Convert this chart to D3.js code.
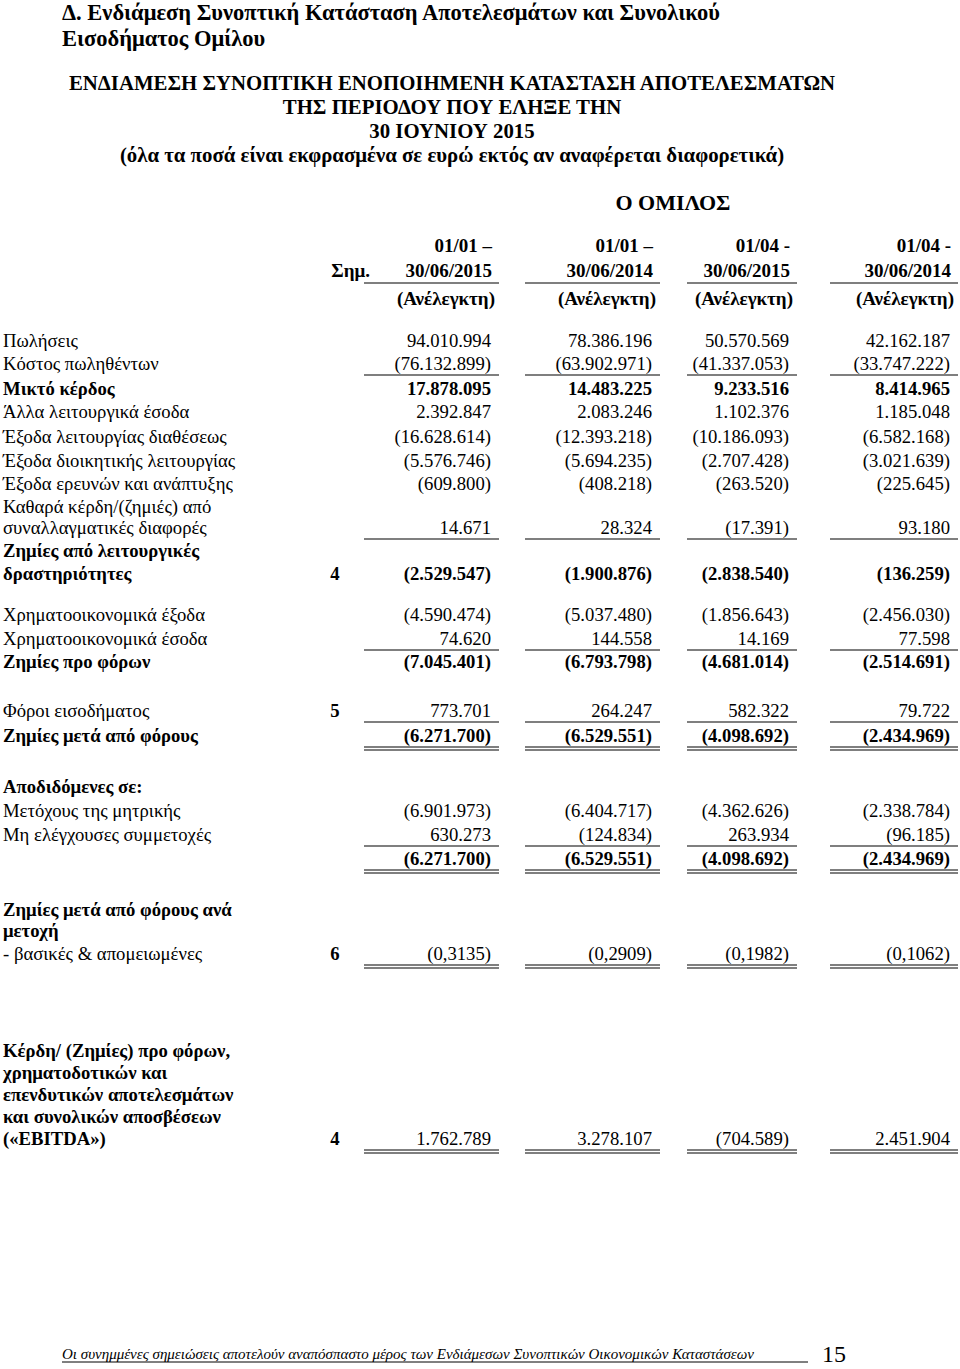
<!DOCTYPE html>
<html>
<head>
<meta charset="utf-8">
<script src="https://cdn.jsdelivr.net/npm/d3@7/dist/d3.min.js"></script>
<style>
  body { margin: 0; background: #fff; }
  text { font-family: "Liberation Serif", "Times New Roman", serif; fill: #000; }
</style>
</head>
<body>
<script>
// row labels (multi-line labels are split into several rows)
const rowLabels = [
  'Πωλήσεις', 'Κόστος πωληθέντων', 'Μικτό κέρδος', 'Άλλα λειτουργικά έσοδα',
  'Έξοδα λειτουργίας διαθέσεως', 'Έξοδα διοικητικής λειτουργίας',
  'Έξοδα ερευνών και ανάπτυξης', 'Καθαρά κέρδη/(ζημιές) από',
  'συναλλαγματικές διαφορές', 'Ζημίες από λειτουργικές', 'δραστηριότητες',
  'Χρηματοοικονομικά έξοδα', 'Χρηματοοικονομικά έσοδα', 'Ζημίες προ φόρων',
  'Φόροι εισοδήματος', 'Ζημίες μετά από φόρους', 'Αποδιδόμενες σε:',
  'Μετόχους της μητρικής', 'Μη ελέγχουσες συμμετοχές', '',
  'Ζημίες μετά από φόρους ανά', 'μετοχή', '- βασικές & απομειωμένες',
  'Κέρδη/ (Ζημίες) προ φόρων,', 'χρηματοδοτικών και', 'επενδυτικών αποτελεσμάτων',
  'και συνολικών αποσβέσεων', '(«EBITDA»)'
];
const rowNotes = [null, null, null, null, null, null, null, null, null, null, '4',
  null, null, null, '5', null, null, null, null, null, null, null, '6',
  null, null, null, null, '4'];

const columns = ['01/01 –\n30/06/2015', '01/01 –\n30/06/2014', '01/04 -\n30/06/2015', '01/04 -\n30/06/2014'];

const h1_2015 = [94010994, -76132899, 17878095, 2392847, -16628614, -5576746, -609800, null,
  14671, null, -2529547, -4590474, 74620, -7045401, 773701, -6271700, null,
  -6901973, 630273, -6271700, null, null, -0.3135, null, null, null, null, 1762789];
const h1_2014 = [78386196, -63902971, 14483225, 2083246, -12393218, -5694235, -408218, null,
  28324, null, -1900876, -5037480, 144558, -6793798, 264247, -6529551, null,
  -6404717, -124834, -6529551, null, null, -0.2909, null, null, null, null, 3278107];
const q2_2015 = [50570569, -41337053, 9233516, 1102376, -10186093, -2707428, -263520, null,
  -17391, null, -2838540, -1856643, 14169, -4681014, 582322, -4098692, null,
  -4362626, 263934, -4098692, null, null, -0.1982, null, null, null, null, -704589];
const q2_2014 = [42162187, -33747222, 8414965, 1185048, -6582168, -3021639, -225645, null,
  93180, null, -136259, -2456030, 77598, -2514691, 79722, -2434969, null,
  -2338784, -96185, -2434969, null, null, -0.1062, null, null, null, null, 2451904];

// ---- layout ----
const width = 960, height = 1369;
const rowY = [340, 363, 388, 411, 436, 460, 483, 506, 527, 550, 573, 614, 638, 661,
  710, 735, 786, 810, 834, 858, 909, 930, 953, 1050, 1072, 1094, 1116, 1138];
const boldLabel = new Set([2, 9, 10, 13, 15, 16, 19, 20, 21, 23, 24, 25, 26, 27]);
const boldValue = new Set([2, 10, 13, 15, 19]);
const singleRule = new Set([1, 8, 12, 14, 18]);
const doubleRule = new Set([15, 19, 22, 27]);

const series = [h1_2015, h1_2014, q2_2015, q2_2014];
const colRight = d3.scaleOrdinal().domain(d3.range(4)).range([491, 652, 789, 950]);
const ruleStart = d3.scaleOrdinal().domain(d3.range(4)).range([364, 525, 687, 830]);
const ruleEnd = d3.scaleOrdinal().domain(d3.range(4)).range([499, 660, 797, 958]);

const grLocale = d3.formatLocale({ decimal: ',', thousands: '.', grouping: [3], currency: ['', '€'] });
const fmtInt = grLocale.format(',d');
const fmtEps = grLocale.format(',.4f');
function fmt(v) {
  if (v == null) return '';
  const s = Math.abs(v) < 1 ? fmtEps(Math.abs(v)) : fmtInt(Math.abs(v));
  return v < 0 ? '(' + s + ')' : s;
}

const svg = d3.select('body')
  .append('svg')
  .attr('width', width)
  .attr('height', height);

// titles
const title = svg.append('g').style('font-weight', 'bold');
title.append('text').attr('x', 62).attr('y', 20).style('font-size', '22.5px')
  .text('Δ. Ενδιάμεση Συνοπτική Κατάσταση Αποτελεσμάτων και Συνολικού');
title.append('text').attr('x', 62).attr('y', 46).style('font-size', '22.5px')
  .text('Εισοδήματος Ομίλου');

const heading = ['ΕΝΔΙΑΜΕΣΗ ΣΥΝΟΠΤΙΚΗ ΕΝΟΠΟΙΗΜΕΝΗ ΚΑΤΑΣΤΑΣΗ ΑΠΟΤΕΛΕΣΜΑΤΩΝ',
  'ΤΗΣ ΠΕΡΙΟΔΟΥ ΠΟΥ ΕΛΗΞΕ ΤΗΝ', '30 ΙΟΥΝΙΟΥ 2015',
  '(όλα τα ποσά είναι εκφρασμένα σε ευρώ εκτός αν αναφέρεται διαφορετικά)'];
title.selectAll('text.head')
  .data(heading)
  .enter()
  .append('text')
  .attr('class', 'head')
  .attr('x', 452)
  .attr('y', (d, i) => 83 + i * 24)
  .attr('dy', '0.35em')
  .attr('text-anchor', 'middle')
  .style('font-size', '20.8px')
  .text((d) => d);

title.append('text').attr('x', 673).attr('y', 202).attr('dy', '0.35em')
  .attr('text-anchor', 'middle').style('font-size', '22px').text('Ο ΟΜΙΛΟΣ');

// column headers
const hdr = svg.append('g').style('font-weight', 'bold').style('font-size', '19px');
hdr.append('text').attr('x', 370).attr('y', 270).attr('dy', '0.35em')
  .attr('text-anchor', 'end').text('Σημ.');
columns.forEach(function (c, i) {
  c.split('\n').forEach(function (line, j) {
    hdr.append('text')
      .attr('x', colRight(i) + 1)
      .attr('y', 245 + j * 25)
      .attr('dy', '0.35em')
      .attr('text-anchor', 'end')
      .text(line);
  });
  hdr.append('text')
    .attr('x', colRight(i) + 4)
    .attr('y', 298)
    .attr('dy', '0.35em')
    .attr('text-anchor', 'end')
    .text('(Ανέλεγκτη)');
  svg.append('line')
    .attr('x1', ruleStart(i)).attr('x2', ruleEnd(i))
    .attr('y1', 283).attr('y2', 283)
    .attr('stroke', '#000').attr('stroke-width', 1.2);
});

// body rows
const rows = svg.append('g').style('font-size', '18.7px');
rows.selectAll('text.label')
  .data(rowLabels)
  .enter()
  .append('text')
  .attr('class', 'label')
  .attr('x', 3)
  .attr('y', (d, i) => rowY[i])
  .attr('dy', '0.35em')
  .style('font-weight', (d, i) => (boldLabel.has(i) ? 'bold' : 'normal'))
  .text((d) => d);

rows.selectAll('text.note')
  .data(rowNotes)
  .enter()
  .append('text')
  .attr('class', 'note')
  .attr('x', 335)
  .attr('y', (d, i) => rowY[i])
  .attr('dy', '0.35em')
  .attr('text-anchor', 'middle')
  .style('font-weight', 'bold')
  .text((d) => d || '');

series.forEach(function (vals, c) {
  rows.selectAll('text.v' + c)
    .data(vals)
    .enter()
    .append('text')
    .attr('class', 'v' + c)
    .attr('x', colRight(c))
    .attr('y', (d, i) => rowY[i])
    .attr('dy', '0.35em')
    .attr('text-anchor', 'end')
    .style('font-weight', (d, i) => (boldValue.has(i) ? 'bold' : 'normal'))
    .text((d) => fmt(d));

  rowY.forEach(function (y, i) {
    if (singleRule.has(i) || doubleRule.has(i)) {
      svg.append('line')
        .attr('x1', ruleStart(c)).attr('x2', ruleEnd(c))
        .attr('y1', y + 12).attr('y2', y + 12)
        .attr('stroke', '#000').attr('stroke-width', 1.2);
    }
    if (doubleRule.has(i)) {
      svg.append('line')
        .attr('x1', ruleStart(c)).attr('x2', ruleEnd(c))
        .attr('y1', y + 15).attr('y2', y + 15)
        .attr('stroke', '#000').attr('stroke-width', 1.2);
    }
  });
});

// footer
svg.append('text')
  .attr('x', 62).attr('y', 1359)
  .style('font-size', '15px').style('font-style', 'italic')
  .text('Οι συνημμένες σημειώσεις αποτελούν αναπόσπαστο μέρος των Ενδιάμεσων Συνοπτικών Οικονομικών Καταστάσεων');
svg.append('line')
  .attr('x1', 62).attr('x2', 808).attr('y1', 1362).attr('y2', 1362)
  .attr('stroke', '#000').attr('stroke-width', 1);
svg.append('text')
  .attr('x', 822).attr('y', 1362)
  .style('font-size', '24px')
  .text('15');
</script>
</body>
</html>
